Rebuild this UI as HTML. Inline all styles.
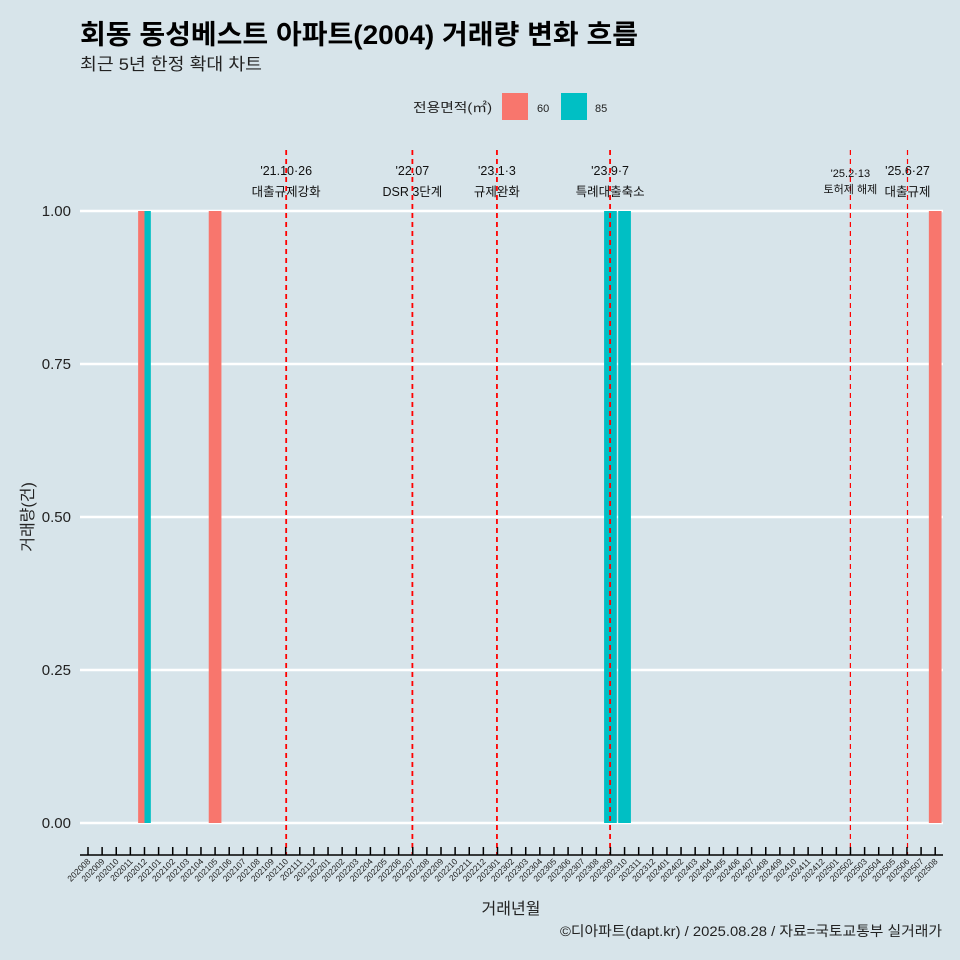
<!DOCTYPE html>
<html><head><meta charset="utf-8"><style>
body{margin:0;background:#d7e4ea;}
svg{display:block;font-family:"Liberation Sans","Noto Sans CJK KR",sans-serif;}
</style></head><body>
<svg id="c" width="960" height="960" xmlns="http://www.w3.org/2000/svg">
<rect width="960" height="960" fill="#d7e4ea"/>
<text x="80" y="44" font-size="27" font-weight="bold" fill="#000" textLength="558" lengthAdjust="spacingAndGlyphs">회동 동성베스트 아파트(2004) 거래량 변화 흐름</text>
<text x="80" y="70" font-size="17" fill="#222" textLength="182" lengthAdjust="spacingAndGlyphs">최근 5년 한정 확대 차트</text>
<g>
<text x="413" y="112" font-size="13" fill="#222" textLength="79" lengthAdjust="spacingAndGlyphs">전용면적(㎡)</text>
<rect x="502" y="93" width="26" height="27" fill="#f8766d"/>
<text x="537" y="112" font-size="11" fill="#222">60</text>
<rect x="561" y="93" width="26" height="27" fill="#00bfc4"/>
<text x="595" y="112" font-size="11" fill="#222">85</text>
</g>
<g id="plot"></g>
<text x="33" y="517" font-size="16" fill="#222" text-anchor="middle" transform="rotate(-90 33 517)">거래량(건)</text>
<text x="511" y="914" font-size="16" fill="#222" text-anchor="middle">거래년월</text>
<text x="942" y="936" font-size="14" fill="#222" text-anchor="end" textLength="382" lengthAdjust="spacingAndGlyphs">©디아파트(dapt.kr) / 2025.08.28 / 자료=국토교통부 실거래가</text>
</svg>
<script>
const categories=[];for(let y=2020,m=8;categories.length<61;){categories.push(y+String(m).padStart(2,'0'));m++;if(m>12){m=1;y++;}}
const yTicks=[0,0.25,0.5,0.75,1.0];
const yTickLabels=["0.00","0.25","0.50","0.75","1.00"];
const barMonths=["202012","202012","202105","202309","202310","202508"];
const barSeries=["60","85","60","85","85","60"];
const barValues=[1,1,1,1,1,1];
const eventMonths=["202110","202207","202301","202309","202502","202506"];
const eventDays=[26,7,3,7,13,27];
const eventLine1=["'21.10·26","'22.07","'23.1·3","'23.9·7","'25.2·13","'25.6·27"];
const eventLine2=["대출규제강화","DSR 3단계","규제완화","특례대출축소","토허제 해제","대출규제"];
const NS="http://www.w3.org/2000/svg";
const g=document.getElementById('plot');
function x(i){return 88+14.12*i;}
function xc(c){return x(categories.indexOf(c));}
function y(v){return 823-612*v;}
function el(t,a){const e=document.createElementNS(NS,t);for(const k in a)e.setAttribute(k,a[k]);g.appendChild(e);return e;}
yTicks.forEach((v,i)=>{
 const l=el('line',{x1:80,x2:943,y1:y(v),y2:y(v),stroke:'#fff','stroke-width':2.5});
 
 
 const t=el('text',{x:71,y:y(v)+5,'font-size':15,'text-anchor':'end',fill:'#222'});t.textContent=yTickLabels[i];
 
 
});
const bw=12.7;
barMonths.forEach((m,i)=>{
 const cx=xc(m);
 const dodge=barMonths.filter(b=>b===m).length>1;
 let x0,w;
 if(dodge){w=bw/2;x0=barSeries[i]==="60"?cx-w:cx;}else{w=bw;x0=cx-bw/2;}
 const r=el('rect',{x:x0,y:y(barValues[i]),width:w,height:y(0)-y(barValues[i]),fill:barSeries[i]==="60"?'#f8766d':'#00bfc4'});
 
 
});
eventMonths.forEach((m,i)=>{
 const ex=xc(m)+(eventDays[i]-15)/31*0.1*14.12;
 const thin=i>=4;
 const l=el('line',{x1:ex,x2:ex,y1:150,y2:855,stroke:'#ff0000','stroke-width':thin?1.2:1.8,'stroke-dasharray':'5,4'});
 
 
 const fs=i===4?11:12.5;
 const t1=el('text',{x:ex,y:i===4?177:175,'font-size':fs,'text-anchor':'middle',fill:'#111'});t1.textContent=eventLine1[i];
 
 
 const t2=el('text',{x:ex,y:i===4?193:196,'font-size':fs,'text-anchor':'middle',fill:'#111'});t2.textContent=eventLine2[i];
 
 
});
const ax=el('line',{x1:80,x2:943,y1:855,y2:855,stroke:'#000','stroke-width':1.5});


categories.forEach((c,i)=>{
 const tk=el('line',{x1:x(i),x2:x(i),y1:847,y2:855,stroke:'#000','stroke-width':1.5});
 
 
 const t=el('text',{x:x(i)+3,y:862,'font-size':8.5,'text-anchor':'end',fill:'#222',transform:`rotate(-45 ${x(i)+3} 862)`});t.textContent=c;
 
 
});
</script>
</body></html>
